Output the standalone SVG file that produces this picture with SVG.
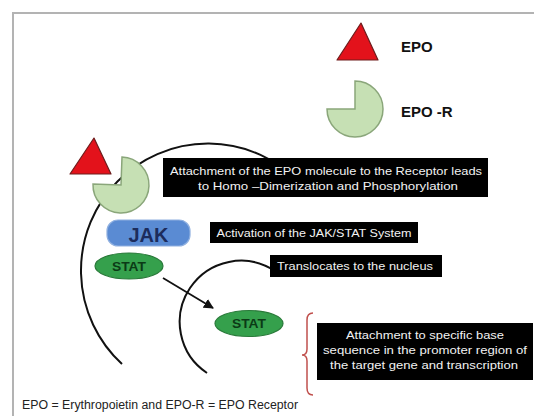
<svg xmlns="http://www.w3.org/2000/svg" width="534" height="416" viewBox="0 0 534 416">
<defs>
<style>
.frame{fill:#fff;stroke:#b3b3b3;stroke-width:2}
.epo{fill:#e3121b;stroke:#6e1c1c;stroke-width:1.2;stroke-linejoin:round}
.rec{fill:#c6e0b4;stroke:#8aa67a;stroke-width:1.5}
.mem{fill:none;stroke:#111;stroke-width:2}
.box{fill:#000}
.bt{font-family:"Liberation Sans",Arial,sans-serif;font-size:11.5px;fill:#f2f2f2;text-anchor:middle}
.lbl{font-family:"Liberation Sans",Arial,sans-serif;font-size:15px;font-weight:bold;fill:#111}
.stat{fill:#35a04c;stroke:#2a7a3a;stroke-width:1.2}
.st{font-family:"Liberation Sans",Arial,sans-serif;font-size:12px;font-weight:bold;fill:#0b3a16;text-anchor:middle}
.foot{font-family:"Liberation Sans",Arial,sans-serif;font-size:12px;fill:#222}
</style>
<marker id="ah" markerWidth="10" markerHeight="10" refX="9" refY="5" orient="auto" markerUnits="userSpaceOnUse">
<path d="M0,0 L10,5 L0,10 Z" fill="#111"/>
</marker>
</defs>
<rect width="534" height="416" fill="#fff"/>
<rect class="frame" x="13" y="13" width="540" height="430"/>

<g id="membranes">
<path class="mem" d="M122,364 A127,127 0 1,1 300,183"/>
<path class="mem" d="M207,373 A61,61 0 1,1 275,271"/>
</g>

<g id="legend-epo">
<polygon class="epo" points="361,23 337,60 378,60"/>
<text class="lbl" x="401" y="52">EPO</text>
</g>
<g id="legend-epor">
<path class="rec" d="M355,109 L355,81 A28,28 0 1,1 327,109 Z"/>
<text class="lbl" x="401" y="117">EPO -R</text>
</g>

<g id="epo-bound">
<polygon class="epo" points="94,138 70,174 111,174"/>
</g>
<g id="receptor">
<path class="rec" d="M121,185 L122,157 A28,28 0 1,1 93,184 Z"/>
</g>

<g id="note-attachment">
<rect class="box" x="163" y="158" width="325" height="39"/>
<text class="bt" x="326" y="175" textLength="312" lengthAdjust="spacingAndGlyphs">Attachment of the EPO molecule to the Receptor leads</text>
<text class="bt" x="328" y="190" textLength="260" lengthAdjust="spacingAndGlyphs">to Homo –Dimerization and Phosphorylation</text>
</g>

<g id="jak">
<rect x="107" y="220" width="83" height="26" rx="11" fill="#5a8bd3" stroke="#8fb0e0" stroke-width="1.2"/>
<text x="148.5" y="242" font-family="'Liberation Sans',Arial,sans-serif" font-size="21" font-weight="bold" fill="#1c2c5c" text-anchor="middle" textLength="40" lengthAdjust="spacingAndGlyphs">JAK</text>
</g>

<g id="note-activation">
<rect class="box" x="210" y="222" width="208" height="21"/>
<text class="bt" x="314" y="237" textLength="195" lengthAdjust="spacingAndGlyphs">Activation of the JAK/STAT System</text>
</g>

<g id="stat1">
<ellipse class="stat" cx="129" cy="266" rx="34" ry="13"/>
<text class="st" x="129" y="270.5" textLength="34" lengthAdjust="spacingAndGlyphs">STAT</text>
</g>

<g id="note-translocate">
<rect class="box" x="270" y="255" width="172" height="22"/>
<text class="bt" x="355" y="270" textLength="156" lengthAdjust="spacingAndGlyphs">Translocates to the nucleus</text>
</g>

<g id="stat2">
<ellipse class="stat" cx="249" cy="323.5" rx="34" ry="13"/>
<text class="st" x="249" y="328" textLength="34" lengthAdjust="spacingAndGlyphs">STAT</text>
</g>

<g id="connectors">
<line x1="163" y1="278" x2="213" y2="308" stroke="#111" stroke-width="1.8" marker-end="url(#ah)"/>
</g>

<g id="bracket">
<path d="M313,313 Q307,313 307,320 L307,349 Q307,355 302,355 Q307,355 307,361 L307,388 Q307,395 313,395" fill="none" stroke="#c0504d" stroke-width="1.5"/>
</g>

<g id="note-transcription">
<rect class="box" x="317" y="323" width="216" height="57"/>
<text class="bt" x="425" y="339" font-size="12.5" textLength="158" lengthAdjust="spacingAndGlyphs">Attachment to specific base</text>
<text class="bt" x="425" y="354" font-size="12.5" textLength="204" lengthAdjust="spacingAndGlyphs">sequence in the promoter region of</text>
<text class="bt" x="424" y="369" font-size="12.5" textLength="188" lengthAdjust="spacingAndGlyphs">the target gene and transcription</text>
</g>

<g id="footer">
<text class="foot" x="22" y="409" textLength="276" lengthAdjust="spacingAndGlyphs">EPO = Erythropoietin and EPO-R = EPO Receptor</text>
</g>
</svg>
